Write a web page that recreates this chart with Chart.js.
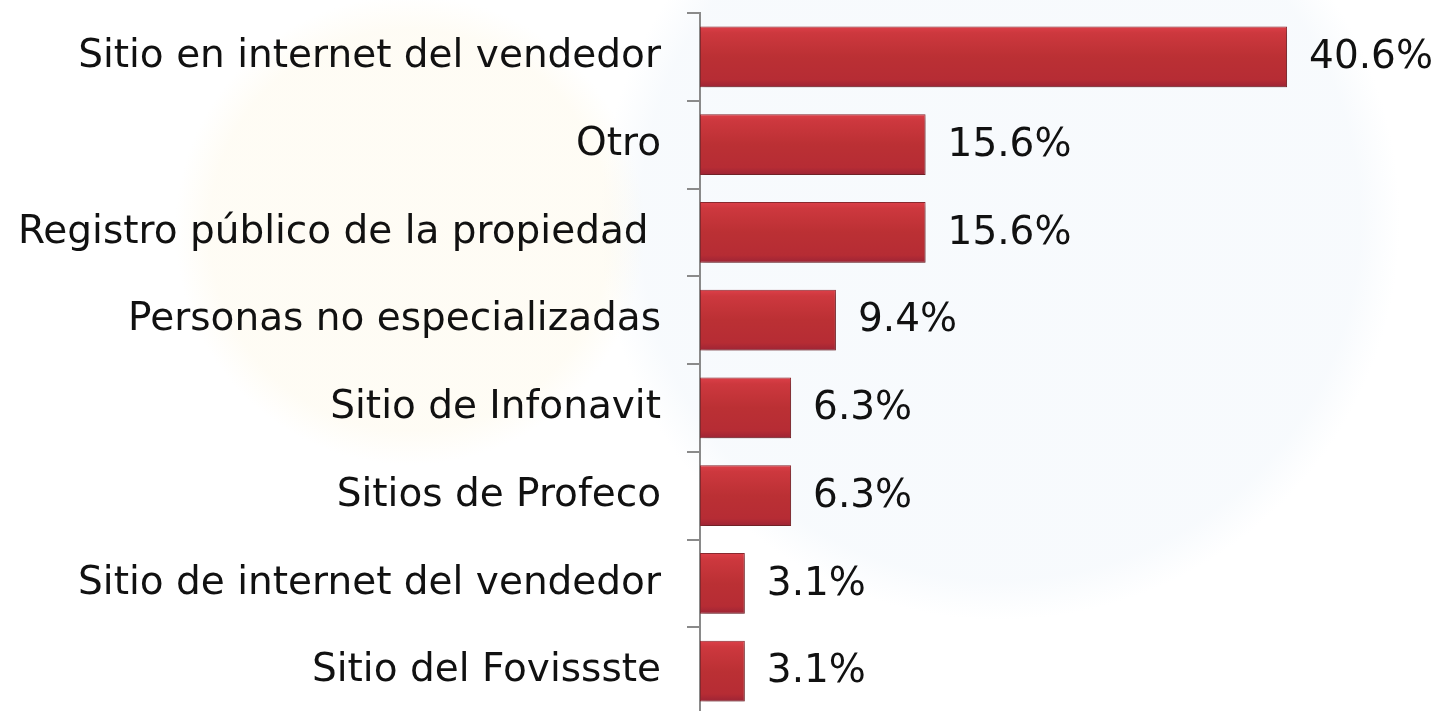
<!DOCTYPE html>
<html>
<head>
<meta charset="utf-8">
<script src="https://cdn.jsdelivr.net/npm/chart.js@4/dist/chart.umd.min.js"></script>
<style>
  html, body { margin: 0; padding: 0; overflow: hidden; background: #fff; }
  #wrap {
    width: 1445px; height: 711px; overflow: hidden;
    background:
      radial-gradient(circle at 410px 230px, rgba(253, 246, 225, 0.35) 0, rgba(253, 246, 225, 0.35) 200px, rgba(255,255,255,0) 235px),
      radial-gradient(circle at 1000px 220px, rgba(236, 243, 250, 0.4) 0, rgba(236, 243, 250, 0.4) 360px, rgba(255,255,255,0) 400px),
      #fff;
  }
  #box { position: relative; width: 1445px; height: 715px; }
</style>
</head>
<body>
<div id="wrap">
  <div id="box"><canvas id="sources"></canvas></div>
</div>
<script>
// categories, top to bottom
const fuentes = [
  'Sitio en internet del vendedor',
  'Otro',
  'Registro público de la propiedad ',
  'Personas no especializadas',
  'Sitio de Infonavit',
  'Sitios de Profeco',
  'Sitio de internet del vendedor',
  'Sitio del Fovissste'
];
// share of answers, percent
const porcentajes = [40.6, 15.6, 15.6, 9.4, 6.3, 6.3, 3.1, 3.1];

const FONT = { family: '"DejaVu Sans", Verdana, sans-serif', size: 39 };

// vertical red gradient for each bar, built from its own position on the y scale
function barFill(context) {
  const chart = context.chart;
  const y = chart.scales.y;
  const center = y ? y.getPixelForValue(context.dataIndex) : NaN;
  if (!isFinite(center)) return '#c0343a';
  const half = 30;
  const g = chart.ctx.createLinearGradient(0, center - half, 0, center + half);
  g.addColorStop(0, '#dc3f48');
  g.addColorStop(0.1, '#cd383e');
  g.addColorStop(0.5, '#bb3034');
  g.addColorStop(0.88, '#b62c34');
  g.addColorStop(1, '#9e2435');
  return g;
}

// soft drop shadow under the bars
const barShadow = {
  id: 'barShadow',
  beforeDatasetsDraw(chart) {
    const ctx = chart.ctx;
    ctx.save();
    ctx.shadowColor = 'rgba(0,0,0,0.28)';
    ctx.shadowBlur = 6;
    ctx.shadowOffsetX = 2;
    ctx.shadowOffsetY = 3;
  },
  afterDatasetsDraw(chart) {
    chart.ctx.restore();
  }
};

// percentage text to the right of each bar
const valueLabels = {
  id: 'valueLabels',
  afterDraw(chart) {
    const ctx = chart.ctx;
    const meta = chart.getDatasetMeta(0);
    ctx.save();
    ctx.font = FONT.size + 'px ' + FONT.family;
    ctx.fillStyle = '#111';
    ctx.textAlign = 'left';
    ctx.textBaseline = 'middle';
    meta.data.forEach((bar, i) => {
      ctx.fillText(porcentajes[i].toFixed(1) + '%', bar.x + 22, bar.y + 1);
    });
    ctx.restore();
  }
};

const ctx = document.getElementById('sources');
const chart = new Chart(ctx, {
  type: 'bar',
  data: {
    labels: fuentes,
    datasets: [{
      data: porcentajes,
      backgroundColor: barFill,
      borderColor: '#8e2a30',
      borderWidth: 1,
      borderSkipped: false,
      barPercentage: 0.69,
      categoryPercentage: 1
    }]
  },
  options: {
    indexAxis: 'y',
    responsive: true,
    maintainAspectRatio: false,
    animation: false,
    layout: { padding: { top: 13, right: 22, bottom: 0, left: 0 } },
    plugins: {
      legend: { display: false },
      tooltip: { enabled: false }
    },
    scales: {
      x: {
        display: false,
        min: 0,
        max: 50
      },
      y: {
        afterFit(scale) {
          scale.width = 700;
          scale.paddingTop = 0;
          scale.paddingBottom = 0;
        },
        border: { color: '#8a8a8a', width: 2 },
        grid: {
          drawOnChartArea: false,
          offset: true,
          color: '#8a8a8a',
          lineWidth: 2,
          tickLength: 13
        },
        ticks: {
          color: '#111',
          padding: 26,
          font: FONT
        }
      }
    }
  },
  plugins: [barShadow, valueLabels]
});
</script>
</body>
</html>
